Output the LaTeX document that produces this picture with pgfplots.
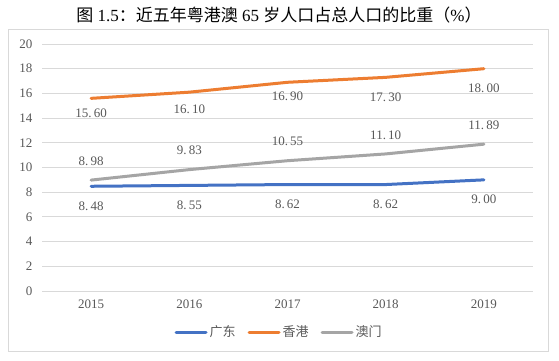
\documentclass[border=0pt]{standalone}
\usepackage{pgfplots}
\pgfplotsset{compat=1.18}
\usepackage{fontspec}
\setmainfont{Liberation Serif}
\newfontfamily\cjk{Noto Sans CJK SC}
\definecolor{gd}{HTML}{4472C4}
\definecolor{hk}{HTML}{ED7D31}
\definecolor{mo}{HTML}{A5A5A5}
\definecolor{gridc}{HTML}{D9D9D9}
\definecolor{txt}{HTML}{595959}
\pgfplotstableread{
x y dy
0 8.48 -20
1 8.55 -20
2 8.62 -20
3 8.62 -20
4 9.00 -19
}\gd
\pgfplotstableread{
x y dy
0 15.60 -15
1 16.10 -17
2 16.90 -14
3 17.30 -20
4 18.00 -20
}\hk
\pgfplotstableread{
x y dy
0 8.98 19
1 9.83 19
2 10.55 19
3 11.10 19
4 11.89 19
}\mo
\begin{document}
\begin{tikzpicture}
\fill[white] (0,0) rectangle (559pt,360pt);
\draw[gridc, line width=0.8pt] (8pt,9pt) rectangle (548pt,331pt);
\node[font=\fontsize{17}{20}\selectfont, text=black] at (279pt,345pt) {{\cjk 图} 1.5{\cjk ：近五年粤港澳} 65 {\cjk 岁人口占总人口的比重（}\%{\cjk ）}};
\begin{axis}[at={(42pt,69pt)}, anchor=south west, scale only axis,
  width=491pt, height=247pt,
  xmin=-0.5, xmax=4.5, ymin=0, ymax=20,
  ytick={0,2,...,20}, xtick={0,1,2,3,4},
  xticklabels={2015,2016,2017,2018,2019},
  axis line style={draw=none}, major tick length=0pt,
  ymajorgrids, grid style={gridc, line width=0.9pt},
  tick label style={font=\fontsize{13}{15}\selectfont, text=txt},
  yticklabel style={xshift=-6pt},
  xticklabel style={yshift=-5pt},
  /pgf/number format/assume math mode=true,
  legend style={at={(0.4827,-0.166)}, anchor=center, draw=none, fill=none,
    legend columns=3, font=\cjk\fontsize{13}{15}\selectfont, text=txt,
    /tikz/every even column/.append style={column sep=10pt}},
  legend image code/.code={\draw[line width=3pt, line cap=round] (0pt,0pt) -- (30pt,0pt);},
  every node near coord/.append style={anchor=center, text=txt, font=\fontsize{13}{15}\selectfont},
  nodes near coords={\pgfmathprintnumber[fixed, fixed zerofill, precision=2, dec sep={.\,}]{\pgfplotspointmeta}},
  visualization depends on={\thisrow{dy}\as\dy},
  every node near coord/.append style={yshift=\dy pt},
]
\addplot[gd, line width=3pt, line join=round, line cap=round, mark=none] table[x=x,y=y] {\gd};
\addlegendentry{广东}
\addplot[hk, line width=3pt, line join=round, line cap=round, mark=none] table[x=x,y=y] {\hk};
\addlegendentry{香港}
\addplot[mo, line width=3pt, line join=round, line cap=round, mark=none] table[x=x,y=y] {\mo};
\addlegendentry{澳门}
\end{axis}
\end{tikzpicture}
\end{document}
